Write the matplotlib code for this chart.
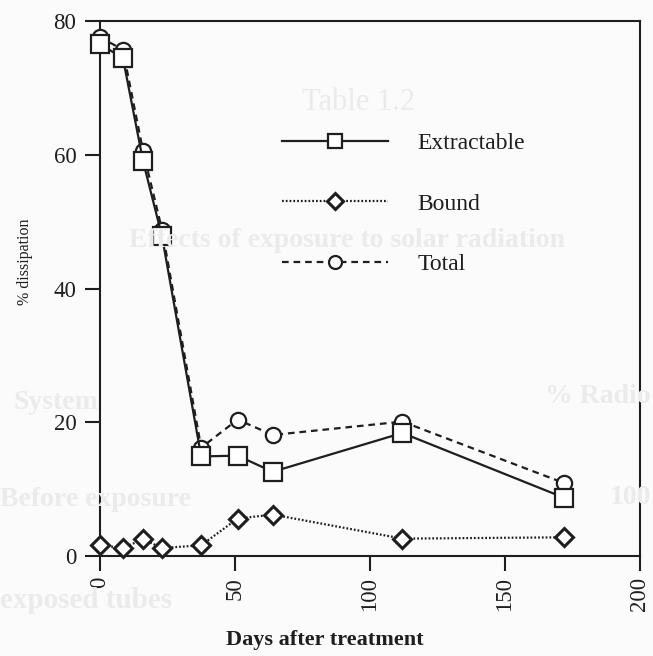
import matplotlib
matplotlib.use("Agg")
import matplotlib.pyplot as plt

# sampling days and % dissipation for each fraction
days = [0, 8.5, 16, 23, 37.5, 51, 64, 112, 172]
extractable = [76.5, 74.5, 59.0, 47.8, 14.9, 15.0, 12.6, 18.4, 8.7]
bound = [1.6, 1.2, 2.5, 1.2, 1.6, 5.6, 6.2, 2.6, 2.8]
total = [77.6, 75.7, 60.5, 48.8, 16.2, 20.4, 18.1, 20.1, 10.9]

x_ticks = [0, 50, 100, 150, 200]
y_ticks = [0, 20, 40, 60, 80]

plt.rcParams['font.family'] = ['Liberation Serif', 'DejaVu Serif']

bg = '#fbfbfb'
ink = '#1e1e1e'

fig = plt.figure(figsize=(6.53, 6.56), dpi=100, facecolor=bg)

# faint show-through from the facing page
ghost = '#ebebeb'
ghost_texts = [
    (0.549, 0.843, 'Table 1.2', 22, 'center', 'normal'),
    (0.532, 0.634, 'Effects of exposure to solar radiation', 20, 'center', 'bold'),
    (0.02, 0.387, 'System', 20, 'left', 'bold'),
    (0.997, 0.395, '% Radio', 20, 'right', 'bold'),
    (0.0, 0.238, 'Before exposure', 20, 'left', 'bold'),
    (0.997, 0.242, '100', 20, 'right', 'bold'),
    (0.0, 0.085, 'exposed tubes', 21, 'left', 'bold'),
]
for gx, gy, gtxt, gsize, gha, gw in ghost_texts:
    fig.text(gx, gy, gtxt, color=ghost, fontsize=gsize, fontweight=gw,
             ha=gha, va='center', zorder=0)

ax = fig.add_axes([0.153, 0.1524, 0.827, 0.8156])
ax.patch.set_alpha(0)

ax.plot(days, total, color=ink, lw=1.6, ls=(0, (3, 2.2)), marker='o',
        ms=11, mfc='white', mec=ink, mew=1.6, label='Total',
        clip_on=False, zorder=3)
ax.plot(days, extractable, color=ink, lw=1.6, ls='-', marker='s',
        ms=12.5, mfc='white', mec=ink, mew=1.6, label='Extractable',
        clip_on=False, zorder=4)
ax.plot(days, bound, color=ink, lw=1.6, ls=(0, (0.8, 0.9)), marker='D',
        ms=9, mfc='white', mec=ink, mew=2.2, label='Bound',
        clip_on=False, zorder=4)

ax.set_xlim(0, 200)
ax.set_ylim(0, 80)
ax.set_xticks(x_ticks)
ax.set_yticks(y_ticks)
ax.tick_params(axis='both', direction='out', length=11, width=1.5,
               color=ink, labelcolor=ink, labelsize=16.5)
ax.tick_params(axis='y', pad=6)
ax.tick_params(axis='x', pad=4, labelrotation=90)
for lbl in ax.get_xticklabels():
    lbl.set_va('top')

for side in ['left', 'right', 'top', 'bottom']:
    ax.spines[side].set_linewidth(1.5)
    ax.spines[side].set_color(ink)

ax.set_xlabel('Days after treatment', fontsize=16, fontweight='bold',
              color=ink)
ax.xaxis.set_label_coords(0.417, -0.138)
ax.set_ylabel('% dissipation', fontsize=11.5, color=ink)
ax.yaxis.set_label_coords(-0.124, 0.55)

handles, labels = ax.get_legend_handles_labels()
order = [1, 2, 0]
leg = ax.legend([handles[i] for i in order], [labels[i] for i in order],
                loc='upper left', bbox_to_anchor=(0.337, 0.792),
                frameon=False, fontsize=17, handlelength=4.5,
                handletextpad=1.25, labelspacing=1.66, borderpad=0,
                borderaxespad=0, numpoints=1, markerscale=0.85)
for t in leg.get_texts():
    t.set_color(ink)

fig.savefig('out.png', dpi=100, facecolor=bg)
